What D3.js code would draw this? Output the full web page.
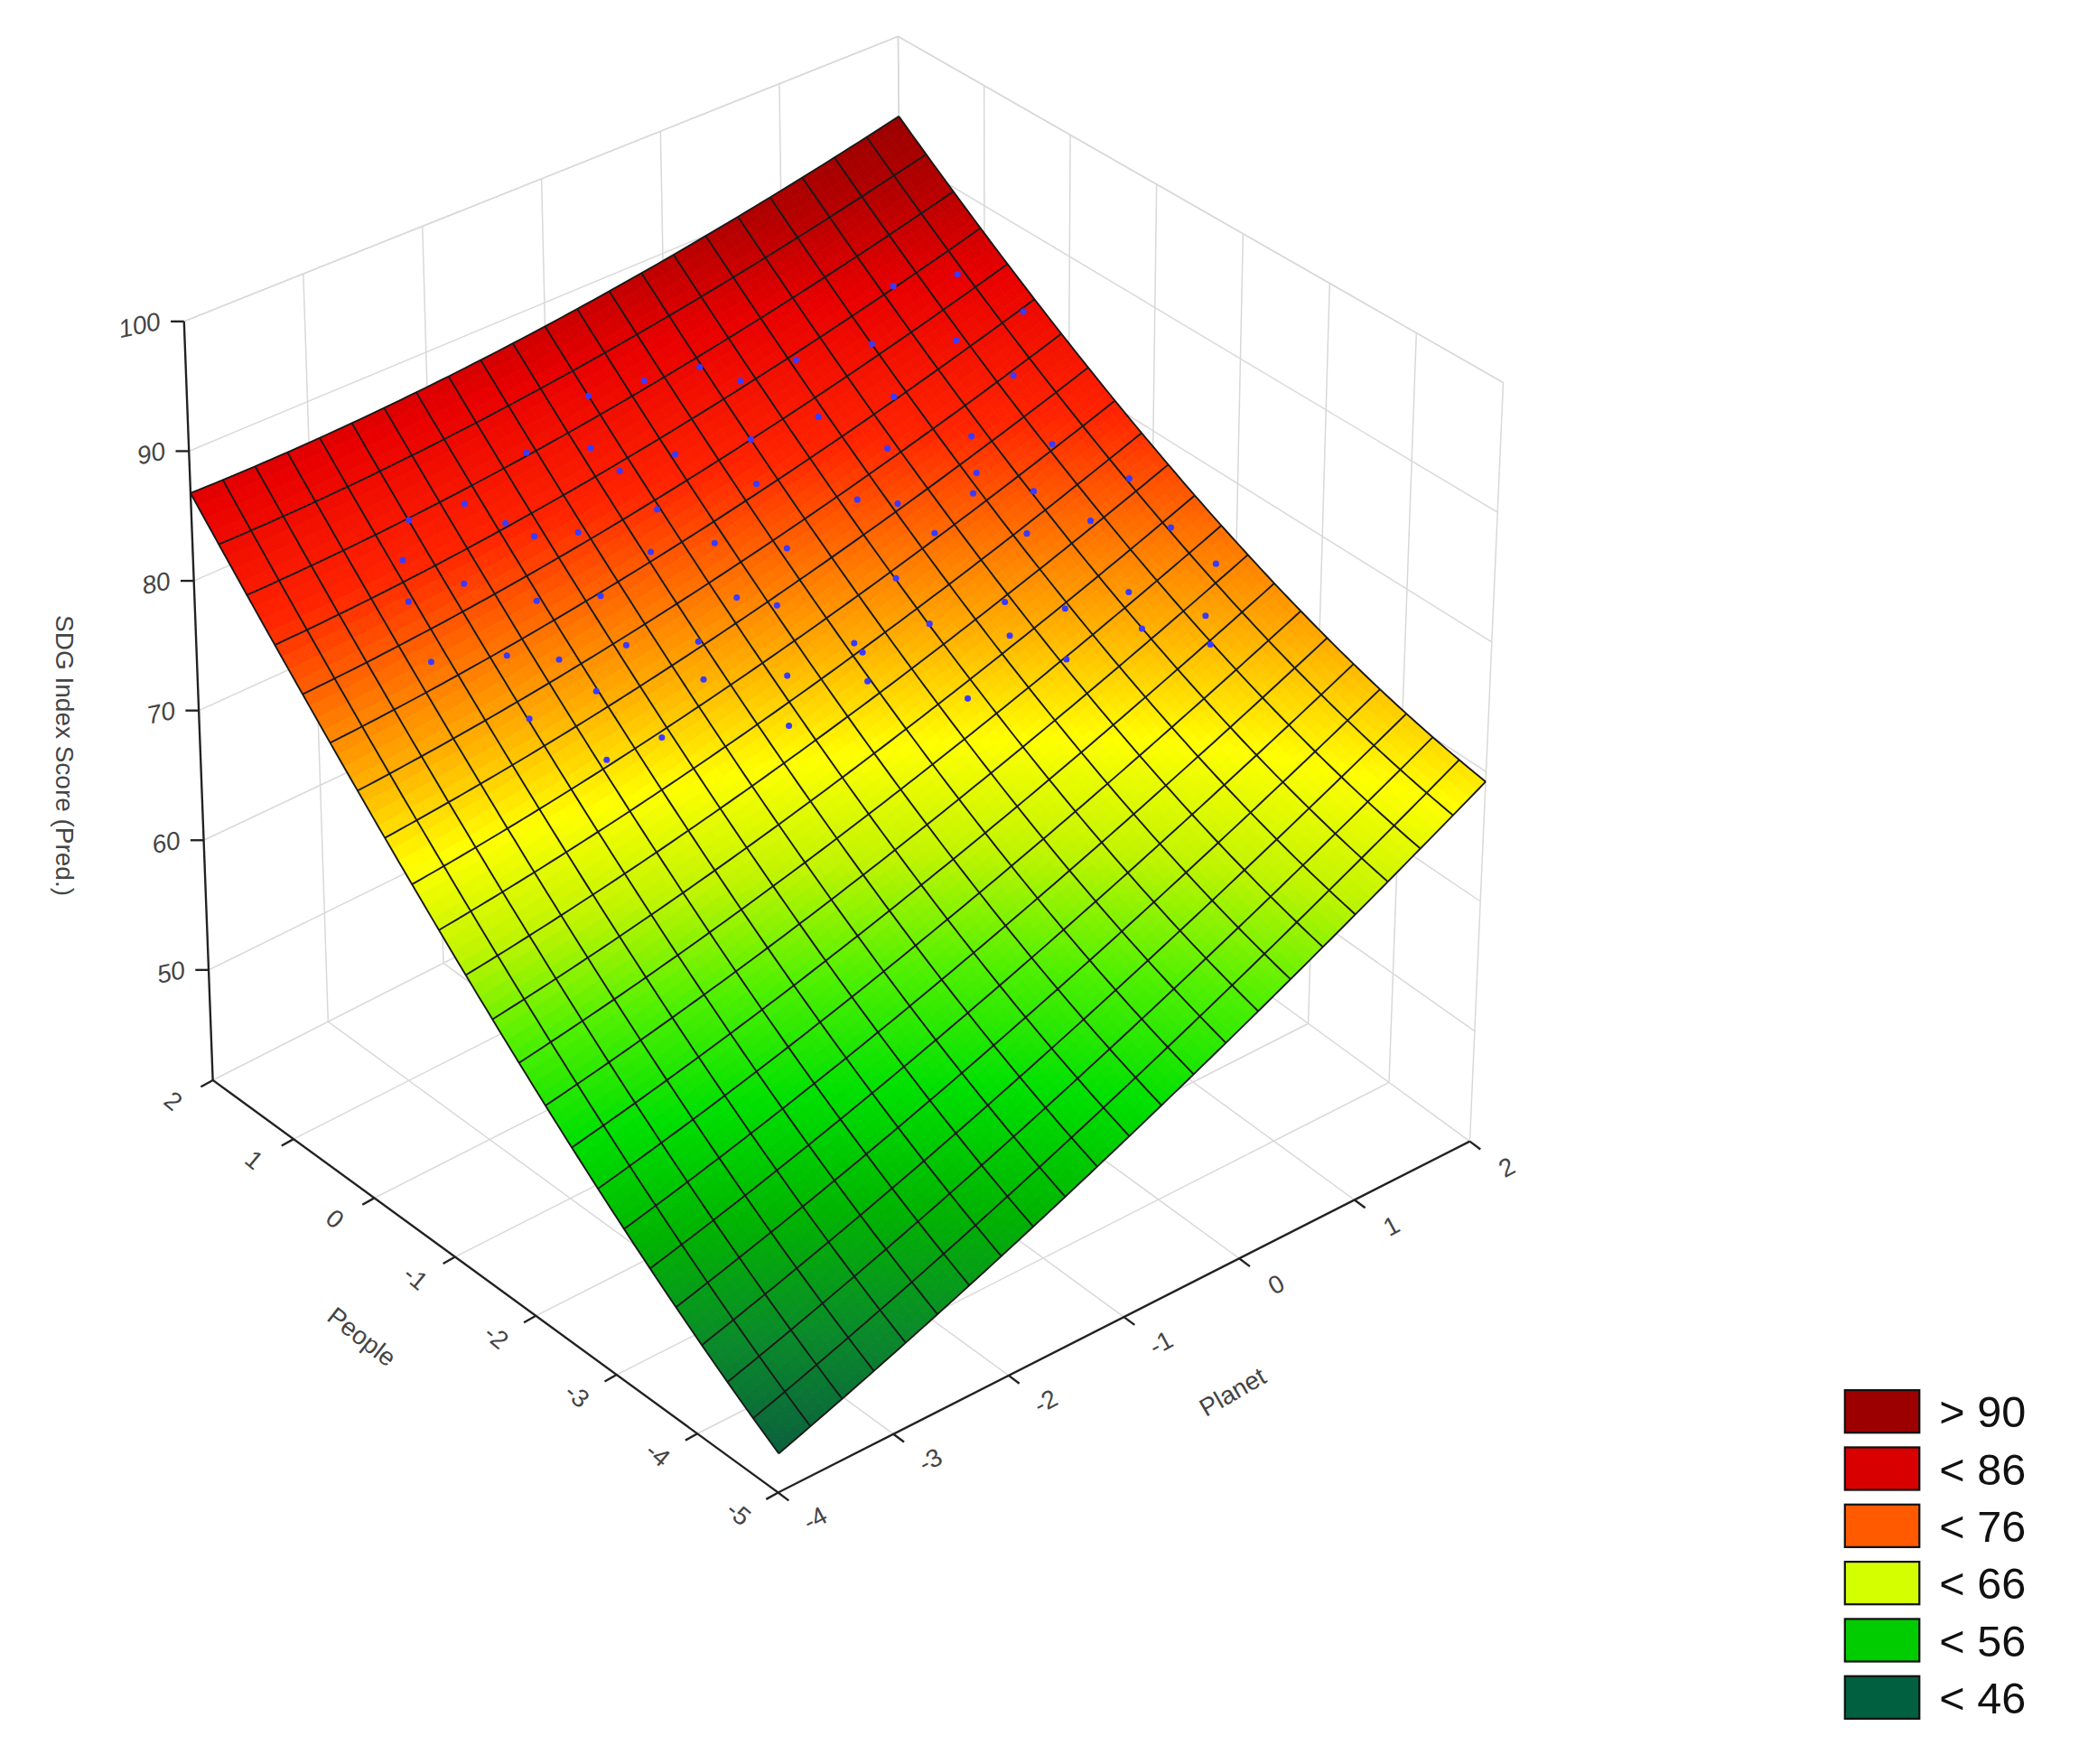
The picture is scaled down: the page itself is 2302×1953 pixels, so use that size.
<!DOCTYPE html>
<html>
<head>
<meta charset="utf-8">
<script src="https://cdn.jsdelivr.net/npm/d3@7"></script>
<style>
  body { margin: 0; background: #fff; }
  text { font-family: Arial, "Liberation Sans", sans-serif; }
</style>
</head>
<body>
<svg id="chart" width="2302" height="1953"></svg>
<script>
// --- data ---
var peopleTicks = [2, 1, 0, -1, -2, -3, -4, -5];
var planetTicks = [-4, -3, -2, -1, 0, 1, 2];
var scoreTicks = [50, 60, 70, 80, 90, 100];
// fitted quadratic surface, u = People + 1.5, v = Planet + 1
// [const, u, v, u^2, v^2, uv]
var surfaceCoef = [67.2, 4.75, 2.62, 0.35, 0.21, -0.44];
var legendLabels = ['> 90', '< 86', '< 76', '< 66', '< 56', '< 46'];
var legendColors = ['#9c0000', '#d80000', '#ff5a00', '#d4ff00', '#00cc00', '#006040'];
// observed cases: [People, Planet, SDG score]
var cases = [
  [1.4, -2.6, 81.6], [1.3, -2.2, 81.7], [1.4, -1.6, 82.9], [1.2, -1.2, 82.5], [1.4, -0.6, 84.6],
  [1.3, -0.2, 84.5], [1.0, 0.4, 83.9], [0.8, 0.9, 84.0], [1.1, 1.3, 85.8], [0.9, 1.7, 86.0],
  [1.0, -2.9, 78.1], [0.9, -2.5, 78.3], [1.1, -2.0, 80.2], [0.8, -1.6, 79.1], [1.0, -1.1, 81.1],
  [0.9, -0.7, 81.2], [0.7, -0.2, 81.2], [0.6, 0.3, 81.4], [0.4, 0.8, 81.8], [0.5, 1.4, 83.5],
  [0.6, -3.0, 75.5], [0.4, -2.5, 74.8], [0.6, -2.1, 76.6], [0.4, -1.7, 76.2], [0.5, -1.2, 77.2],
  [0.3, -0.8, 77.1], [0.5, -0.3, 78.9], [0.0, 0.2, 77.7], [0.2, 0.6, 79.3], [-0.1, 1.1, 79.5],
  [0.1, 1.6, 81.5], [-0.2, 0.4, 77.4], [0.0, -2.6, 72.0], [-0.1, -2.1, 72.5], [0.1, -1.7, 73.6],
  [-0.2, -1.3, 73.5], [-0.1, -0.9, 74.9], [0.0, -0.4, 76.3], [-0.6, 0.1, 74.4], [-0.5, 0.5, 75.9],
  [-0.3, 1.0, 77.8], [-0.5, 1.5, 78.9], [-0.3, -0.7, 74.3], [-0.5, -2.3, 69.7], [-0.6, -1.9, 70.2],
  [-0.4, -1.4, 71.8], [-0.7, -0.9, 71.3], [-0.9, -0.4, 71.9], [-1.0, 0.1, 72.5], [-1.2, 0.6, 73.0],
  [-0.9, 1.0, 75.5], [-1.1, 1.4, 75.7], [-1.0, 1.8, 77.0], [-1.0, -1.1, 69.5], [-1.1, -0.5, 70.9],
  [-1.6, 0.0, 69.6], [-1.4, 0.5, 71.6], [-1.5, 0.9, 72.5], [-1.7, 1.3, 73.0], [-1.5, 1.8, 75.2],
  [-2.0, 1.2, 71.8], [-2.2, 1.6, 72.0], [-1.9, 1.9, 73.6], [-2.4, 1.5, 71.0], [1.2, -2.8, 80.1],
  [0.7, -1.0, 78.9], [0.2, -2.2, 74.1], [1.1, 0.0, 83.4], [-0.7, 1.2, 77.2], [-0.8, -0.4, 72.2],
  [0.4, 1.9, 84.2], [-1.8, 0.7, 70.6], [1.5, -1.0, 84.6], [0.9, -1.9, 79.6], [-0.4, 0.9, 77.0]
];

// --- projection (reference pixel space, scaled to page at the end) ---
var K = 2302 / 1563;
var zMin = 41.5, zMax = 100;
var a01 = d3.scaleLinear().domain([-5, 2]).range([0, 1]);   // People -> depth share
var b01 = d3.scaleLinear().domain([-4, 2]).range([0, 1]);   // Planet -> depth share

function proj(p, q, z) {
  var a = a01(p), b = b01(q);
  var x = 160 + (1 - a) * 425 + b * 520;
  var y = 812 + (1 - a) * 310 - b * 264;
  var h = z - zMin;
  var sc = 10.6 - 0.85 * a - 0.85 * b;
  var lean = 0.15 - 0.52 * a + 0.28 * b;
  return [x + lean * h * sc / 9.75, y - h * sc];
}
function surf(p, q) {
  var c = surfaceCoef, u = p + 1.5, v = q + 1;
  return c[0] + c[1] * u + c[2] * v + c[3] * u * u + c[4] * v * v + c[5] * u * v;
}

var color = d3.scaleLinear()
  .domain([44, 48, 52, 56, 60, 64, 68, 72, 76, 80, 86, 90, 95])
  .range(['#0b5d3f', '#0a8a2a', '#00b400', '#00e000', '#50f000', '#c0f400', '#ffff00',
          '#ffb000', '#ff6a00', '#ff2400', '#e80000', '#b40000', '#8c0000'])
  .clamp(true);

var svg = d3.select('#chart');
var g = svg.append('g').attr('transform', 'scale(' + K + ')');
var line = d3.line();

// --- walls and floor grid ---
var grid = g.append('g').attr('stroke', '#d8d8d8').attr('stroke-width', 1).attr('fill', 'none');
planetTicks.forEach(function(q) {
  grid.append('path').attr('d', line([proj(2, q, zMin), proj(2, q, zMax)]));
  grid.append('path').attr('d', line([proj(2, q, zMin), proj(-5, q, zMin)]));
});
peopleTicks.forEach(function(p) {
  grid.append('path').attr('d', line([proj(p, 2, zMin), proj(p, 2, zMax)]));
  grid.append('path').attr('d', line([proj(p, -4, zMin), proj(p, 2, zMin)]));
});
scoreTicks.forEach(function(z) {
  grid.append('path').attr('d', line([proj(2, -4, z), proj(2, 2, z), proj(-5, 2, z)]));
});
grid.append('path').attr('d', line([proj(2, -4, zMax), proj(2, 2, zMax), proj(-5, 2, zMax)]));

// --- axes ---
var ax = g.append('g').attr('stroke', '#222').attr('stroke-width', 1.6).attr('fill', 'none');
ax.append('path').attr('d', line([proj(2, -4, zMin), proj(2, -4, zMax)]));
ax.append('path').attr('d', line([proj(2, -4, zMin), proj(-5, -4, zMin), proj(-5, 2, zMin)]));
scoreTicks.forEach(function(z) {
  var s = proj(2, -4, z);
  ax.append('path').attr('d', line([s, [s[0] - 10, s[1]]]));
});
var lab = g.append('g').attr('fill', '#444').attr('font-size', 19);
scoreTicks.forEach(function(z) {
  var s = proj(2, -4, z);
  lab.append('text').attr('x', s[0] - 18).attr('y', s[1] + 6).attr('text-anchor', 'end')
    .attr('font-style', 'italic')
    .attr('transform', 'rotate(-12,' + (s[0] - 18) + ',' + s[1] + ')').text(z);
});
peopleTicks.forEach(function(p) {
  var s = proj(p, -4, zMin);
  ax.append('path').attr('d', line([s, [s[0] - 9, s[1] + 5]]));
  lab.append('text').attr('x', s[0] - 30).attr('y', s[1] + 22).attr('text-anchor', 'middle')
    .attr('transform', 'rotate(40,' + (s[0] - 30) + ',' + (s[1] + 16) + ')').text(p);
});
planetTicks.forEach(function(q) {
  var s = proj(-5, q, zMin);
  ax.append('path').attr('d', line([s, [s[0] + 8, s[1] + 6]]));
  lab.append('text').attr('x', s[0] + 28).attr('y', s[1] + 26).attr('text-anchor', 'middle')
    .attr('transform', 'rotate(-28,' + (s[0] + 28) + ',' + (s[1] + 20) + ')').text(q);
});
lab.append('text').attr('x', 268).attr('y', 1010).attr('text-anchor', 'middle')
  .attr('transform', 'rotate(38,268,1010)').text('People');
lab.append('text').attr('x', 930).attr('y', 1052).attr('text-anchor', 'middle')
  .attr('transform', 'rotate(-30,930,1052)').text('Planet');
lab.append('text').attr('x', 42).attr('y', 568).attr('text-anchor', 'middle')
  .attr('transform', 'rotate(90,42,568)').text('SDG Index Score (Pred.)');

// --- surface ---
var N = 22, SUB = 4, M = N * SUB;
var pS = d3.scaleLinear().domain([0, M]).range([2, -5]);
var qS = d3.scaleLinear().domain([0, M]).range([-4, 2]);
var cells = [];
for (var i = 0; i < M; i++) {
  for (var j = 0; j < M; j++) {
    var p0 = pS(i), p1 = pS(i + 1), q0 = qS(j), q1 = qS(j + 1);
    var zc = surf((p0 + p1) / 2, (q0 + q1) / 2);
    cells.push({
      depth: a01((p0 + p1) / 2) + b01((q0 + q1) / 2),
      pts: [proj(p0, q0, surf(p0, q0)), proj(p1, q0, surf(p1, q0)),
            proj(p1, q1, surf(p1, q1)), proj(p0, q1, surf(p0, q1))],
      fill: color(zc)
    });
  }
}
cells.sort(function(x, y) { return y.depth - x.depth; });
g.append('g').selectAll('path').data(cells).join('path')
  .attr('d', function(d) { return line(d.pts) + 'Z'; })
  .attr('fill', function(d) { return d.fill; })
  .attr('stroke', function(d) { return d.fill; })
  .attr('stroke-width', 0.6);

var mesh = g.append('g').attr('stroke', '#1a1a1a').attr('stroke-width', 1.3).attr('fill', 'none');
var pM = d3.scaleLinear().domain([0, N]).range([2, -5]);
var qM = d3.scaleLinear().domain([0, N]).range([-4, 2]);
d3.range(N + 1).forEach(function(k) {
  var p = pM(k), q = qM(k);
  mesh.append('path').attr('d', line(d3.range(M + 1).map(function(t) {
    var qq = qS(t); return proj(p, qq, surf(p, qq));
  })));
  mesh.append('path').attr('d', line(d3.range(M + 1).map(function(t) {
    var pp = pS(t); return proj(pp, q, surf(pp, q));
  })));
});

// --- observed cases ---
g.append('g').selectAll('circle').data(cases).join('circle')
  .attr('cx', function(d) { return proj(d[0], d[1], d[2])[0]; })
  .attr('cy', function(d) { return proj(d[0], d[1], d[2])[1]; })
  .attr('r', 2.4)
  .attr('fill', '#3a3aff');

// --- legend ---
var leg = g.append('g');
legendLabels.forEach(function(t, k) {
  var y = 1045 + k * 43;
  leg.append('rect').attr('x', 1387).attr('y', y).attr('width', 56).attr('height', 32)
    .attr('fill', legendColors[k]).attr('stroke', '#111').attr('stroke-width', 1.5);
  leg.append('text').attr('x', 1458).attr('y', y + 28).attr('font-size', 33).attr('fill', '#111').text(t);
});
</script>
</body>
</html>
